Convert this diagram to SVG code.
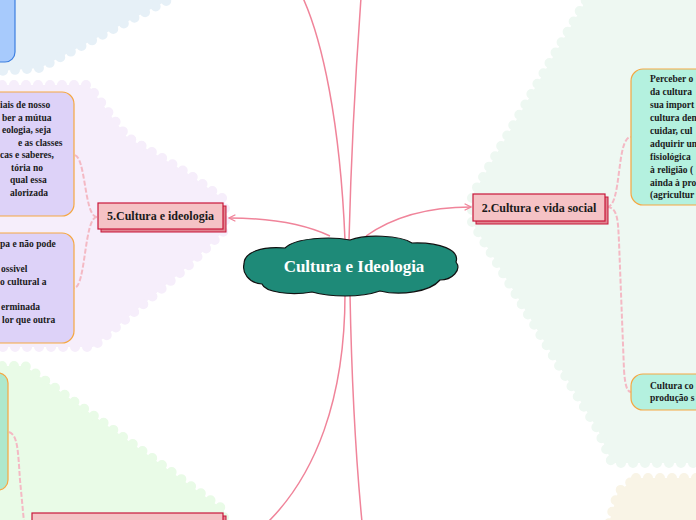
<svg xmlns="http://www.w3.org/2000/svg" width="696" height="520" viewBox="0 0 696 520">
<defs>
<style>
.region{stroke-width:10;stroke-linecap:round;stroke-dasharray:0 12}
.main{fill:none;stroke:#f0849a;stroke-width:1.5}
.sub{fill:none;stroke:#f4b9c4;stroke-width:2;stroke-dasharray:5 2}
.topic{fill:#f5c2c5;stroke:#c8173a;stroke-width:1.2}
.shadow{fill:#e0838f;stroke:#c8173a;stroke-width:1}
.ttext{font-family:"Liberation Serif",serif;font-weight:bold;font-size:12px;fill:#1a1a1a;text-anchor:middle}
.ntext{font-family:"Liberation Serif",serif;font-weight:bold;font-size:9.5px;fill:#1a1a1a}
.lav{fill:#ddd2f8;stroke:#f5a742;stroke-width:1.2}
.mint{fill:#b4f1df;stroke:#f5a742;stroke-width:1.2}
</style>
<marker id="arr" viewBox="0 0 10 10" refX="9" refY="5" markerWidth="8" markerHeight="8" orient="auto" markerUnits="userSpaceOnUse">
<path d="M1,1 L9,5 L1,9" fill="none" stroke="#f0849a" stroke-width="1.5"/>
</marker>
</defs>
<rect width="696" height="520" fill="#ffffff"/>
<g id="regions">
<polygon class="region" points="0,-10 168,-10 168,0 40,68 0,71" fill="#e6f0f7" stroke="#e6f0f7"/>
<polygon class="region" points="-10,85 88,85 127,137 187,173 225,200 225,230 187,267 133,313 93,347 -10,347" fill="#f6eefb" stroke="#f6eefb"/>
<polygon class="region" points="592,-10 706,-10 706,463 612,463 598,430 472,222 472,196" fill="#eef8f2" stroke="#eef8f2"/>
<polygon class="region" points="636,478 706,478 706,530 607,530 618,492" fill="#f9f4e6" stroke="#f9f4e6"/>
<polygon class="region" points="-10,366 25,366 224,510 224,530 -10,530" fill="#e9fbe7" stroke="#e9fbe7"/>
</g>
<g id="connectors">
<path class="main" d="M345,240 C 340,120 322,40 303,-2"/>
<path class="main" d="M349,240 C 352,120 358,40 361,-2"/>
<path class="main" d="M345,294 C 345,400 315,475 268,522"/>
<path class="main" d="M350,294 C 352,400 356,460 362,522"/>
<path class="main" d="M330,236 C 300,222 262,218 229,218" marker-end="url(#arr)"/>
<path class="main" d="M366,236 C 400,212 440,207 471,207" marker-end="url(#arr)"/>
<path class="sub" d="M97,217 C 84,217 86,155 74,155"/>
<path class="sub" d="M97,217 C 84,217 86,288 74,288"/>
<path class="sub" d="M607,207 C 622,207 616,137 631,137"/>
<path class="sub" d="M607,207 C 618,207 618,222 619,242 L 624,370 C 625,385 627,392 631,392"/>
<path class="sub" d="M9,432 C 18,435 18,452 20,480 L 24,522"/>
</g>
<g id="n-blue">
<rect x="-20" y="-20" width="35" height="82" rx="10" fill="#a7cafc" stroke="#3d7fe0" stroke-width="1.2"/>
</g>
<g id="n-lav1">
<rect class="lav" x="-20" y="92" width="94" height="124" rx="12"/>
<text class="ntext"><tspan x="0" y="108">iais de nosso</tspan><tspan x="2" y="120.5">ber a mútua</tspan><tspan x="2" y="133">eologia, seja</tspan><tspan x="18" y="145.5">e as classes</tspan><tspan x="0" y="158">cas e saberes,</tspan><tspan x="11" y="170.5">tória no</tspan><tspan x="10" y="183">qual essa</tspan><tspan x="10" y="195.5">alorizada</tspan></text>
</g>
<g id="n-lav2">
<rect class="lav" x="-20" y="233" width="94" height="110" rx="12"/>
<text class="ntext"><tspan x="0" y="247">pa e não pode</tspan><tspan x="1" y="272">ossivel</tspan><tspan x="0" y="284.5">o cultural a</tspan><tspan x="1" y="310">erminada</tspan><tspan x="2" y="322.5">lor que outra</tspan></text>
</g>
<g id="n-mint-left">
<rect x="-20" y="373" width="28" height="117" rx="10" fill="#aee8cc" stroke="#f5a742" stroke-width="1.2"/>
</g>
<g id="n-right1">
<rect class="mint" x="631" y="69" width="90" height="136" rx="12"/>
<text class="ntext"><tspan x="650" y="82">Perceber o</tspan><tspan x="650" y="95">da cultura</tspan><tspan x="650" y="108">sua import</tspan><tspan x="650" y="121">cultura den</tspan><tspan x="650" y="134">cuidar, cul</tspan><tspan x="650" y="147">adquirir un</tspan><tspan x="650" y="160">fisiológica</tspan><tspan x="650" y="173">à religião (</tspan><tspan x="650" y="186">ainda à pro</tspan><tspan x="650" y="198">(agricultur</tspan></text>
</g>
<g id="n-right2">
<rect class="mint" x="631" y="374" width="90" height="36" rx="12"/>
<text class="ntext"><tspan x="650" y="389">Cultura co</tspan><tspan x="650" y="401">produção s</tspan></text>
</g>
<g id="t-ideologia">
<rect class="shadow" x="101" y="206" width="125" height="26"/>
<rect class="topic" x="98" y="203" width="125" height="26"/>
<text class="ttext" x="160.5" y="220">5.Cultura e ideologia</text>
</g>
<g id="t-vida">
<rect class="shadow" x="476" y="197" width="132" height="27"/>
<rect class="topic" x="473" y="194" width="132" height="27"/>
<text class="ttext" x="539" y="212">2.Cultura e vida social</text>
</g>
<g id="t-bottom">
<rect class="shadow" x="35" y="516" width="191" height="20"/>
<rect class="topic" x="32" y="513" width="191" height="20"/>
</g>
<g id="center">
<path d="M244,264 C 244,252 262,246 285,248 C 295,238 330,236 350,240 C 365,234 400,235 412,243 C 440,242 460,250 456,262 C 462,270 452,280 440,280 C 430,292 400,296 380,291 C 360,298 330,297 312,292 C 290,296 265,292 262,284 C 248,283 242,272 244,264 Z" fill="#1e8a78" stroke="#111" stroke-width="1.2"/>
<text x="354" y="272" font-family="Liberation Serif, serif" font-weight="bold" font-size="17" fill="#ffffff" text-anchor="middle">Cultura e Ideologia</text>
</g>
</svg>
